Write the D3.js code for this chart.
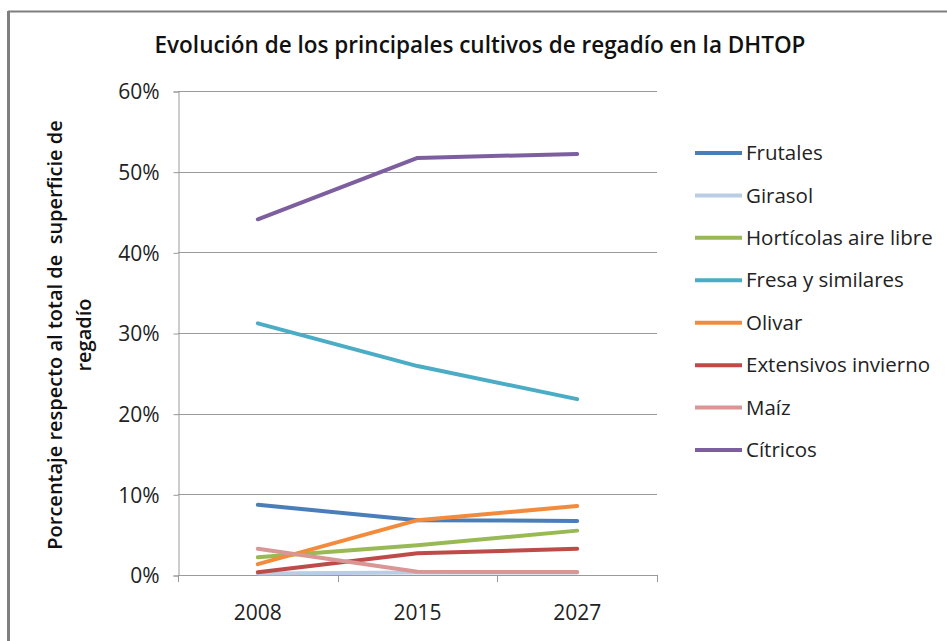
<!DOCTYPE html>
<html><head><meta charset="utf-8">
<script src="https://cdn.jsdelivr.net/npm/d3@7"></script>
<style>
html,body{margin:0;padding:0;background:#fff;}
svg{display:block;font-family:"Open Sans",sans-serif;}
</style></head>
<body>
<svg id="c" width="947" height="641"></svg>
<script>
const years = ["2008","2015","2027"];
const seriesNames = ["Frutales","Girasol","Hortícolas aire libre","Fresa y similares","Olivar","Extensivos invierno","Maíz","Cítricos"];
const frutales = [8.7, 6.8, 6.7];
const girasol = [0.2, 0.3, 0.3];
const horticolas = [2.2, 3.7, 5.5];
const fresa = [31.2, 25.9, 21.8];
const olivar = [1.35, 6.8, 8.55];
const extensivos = [0.35, 2.7, 3.25];
const maiz = [3.25, 0.4, 0.37];
const citricos = [44.1, 51.7, 52.2];
const yTicks = [0, 10, 20, 30, 40, 50, 60];
const colors = ["#4A7EBB","#B9CDE5","#98B954","#4BACC6","#F38B3C","#BE4B48","#D99694","#7D5FA0"];

const seriesValues = [frutales, girasol, horticolas, fresa, olivar, extensivos, maiz, citricos];
const svg = d3.select("#c");

// outer frame
svg.append("line").attr("x1",8).attr("x2",947).attr("y1",11.5).attr("y2",11.5).attr("stroke","#7f7f7f").attr("stroke-width",2);
svg.append("line").attr("x1",8.5).attr("x2",8.5).attr("y1",11).attr("y2",641).attr("stroke","#7f7f7f").attr("stroke-width",3);

const L = 178, R = 657, T = 91, B = 575;
const xBand = d3.scaleBand().domain(years).range([L, R]).padding(0);
const x = d3.scalePoint().domain(years).range([L, R]).padding(0.5);
const y = d3.scaleLinear().domain([0, 60]).range([B, T]);

// gridlines
svg.append("g").selectAll("line").data(yTicks.filter(d=>d>0)).join("line")
  .attr("x1",L).attr("x2",R).attr("y1",d=>Math.round(y(d))+0.5).attr("y2",d=>Math.round(y(d))+0.5)
  .attr("stroke","#9a9a9a").attr("stroke-width",1);

// y axis
const yAxis = d3.axisLeft(y).tickValues(yTicks).tickFormat(d=>d+"%").tickSize(5).tickPadding(14);
const gy = svg.append("g").attr("transform",`translate(${L+0.5},0.5)`).call(yAxis);
gy.select(".domain").attr("stroke","#9a9a9a");
gy.selectAll(".tick line").attr("stroke","#9a9a9a");
gy.selectAll(".tick text").attr("font-family","Open Sans").attr("font-size",21).attr("fill","#222").attr("dy","0.35em");

// x axis
const boundaries = [L, xBand("2015"), xBand("2027"), R];
svg.append("line").attr("x1",L).attr("x2",R).attr("y1",B+0.5).attr("y2",B+0.5).attr("stroke","#9a9a9a");
svg.append("g").selectAll("line").data(boundaries).join("line")
  .attr("x1",d=>Math.round(d)+0.5).attr("x2",d=>Math.round(d)+0.5).attr("y1",B).attr("y2",B+7).attr("stroke","#9a9a9a");
svg.append("g").selectAll("text").data(years).join("text")
  .attr("x",d=>x(d)).attr("y",620).attr("text-anchor","middle")
  .attr("font-size",21).attr("fill","#222").text(d=>d);

// lines
const line = d3.line().x((d,i)=>x(years[i])).y(d=>y(d));
svg.append("g").selectAll("path").data(seriesValues).join("path")
  .attr("d",d=>line(d)).attr("fill","none")
  .attr("stroke",(d,i)=>colors[i]).attr("stroke-width",4)
  .attr("stroke-linecap","round").attr("stroke-linejoin","round");

// title
svg.append("text").attr("x",480).attr("y",53).attr("text-anchor","middle")
  .attr("font-size",22.5).attr("font-weight",600).attr("fill","#111")
  .text("Evolución de los principales cultivos de regadío en la DHTOP");

// y axis title
const yt = svg.append("text").attr("transform","translate(55,335) rotate(-90)")
  .attr("text-anchor","middle").attr("font-size",20).attr("font-weight",600).attr("fill","#111");
yt.append("tspan").attr("x",0).attr("dy","0.35em").text("Porcentaje respecto al total de\u00a0 superficie de");
yt.append("tspan").attr("x",0).attr("dy",29).text("regadío");

// legend
const legY = d3.scalePoint().domain(seriesNames).range([153, 450]);
const lg = svg.append("g").selectAll("g").data(seriesNames).join("g")
  .attr("transform",d=>`translate(0,${legY(d)})`);
lg.append("line").attr("x1",695).attr("x2",742).attr("y1",0).attr("y2",0)
  .attr("stroke",(d,i)=>colors[i]).attr("stroke-width",4);
lg.append("text").attr("x",746).attr("y",0).attr("dy","0.35em")
  .attr("font-size",20.5).attr("fill","#222").text(d=>d);
</script>
</body></html>
